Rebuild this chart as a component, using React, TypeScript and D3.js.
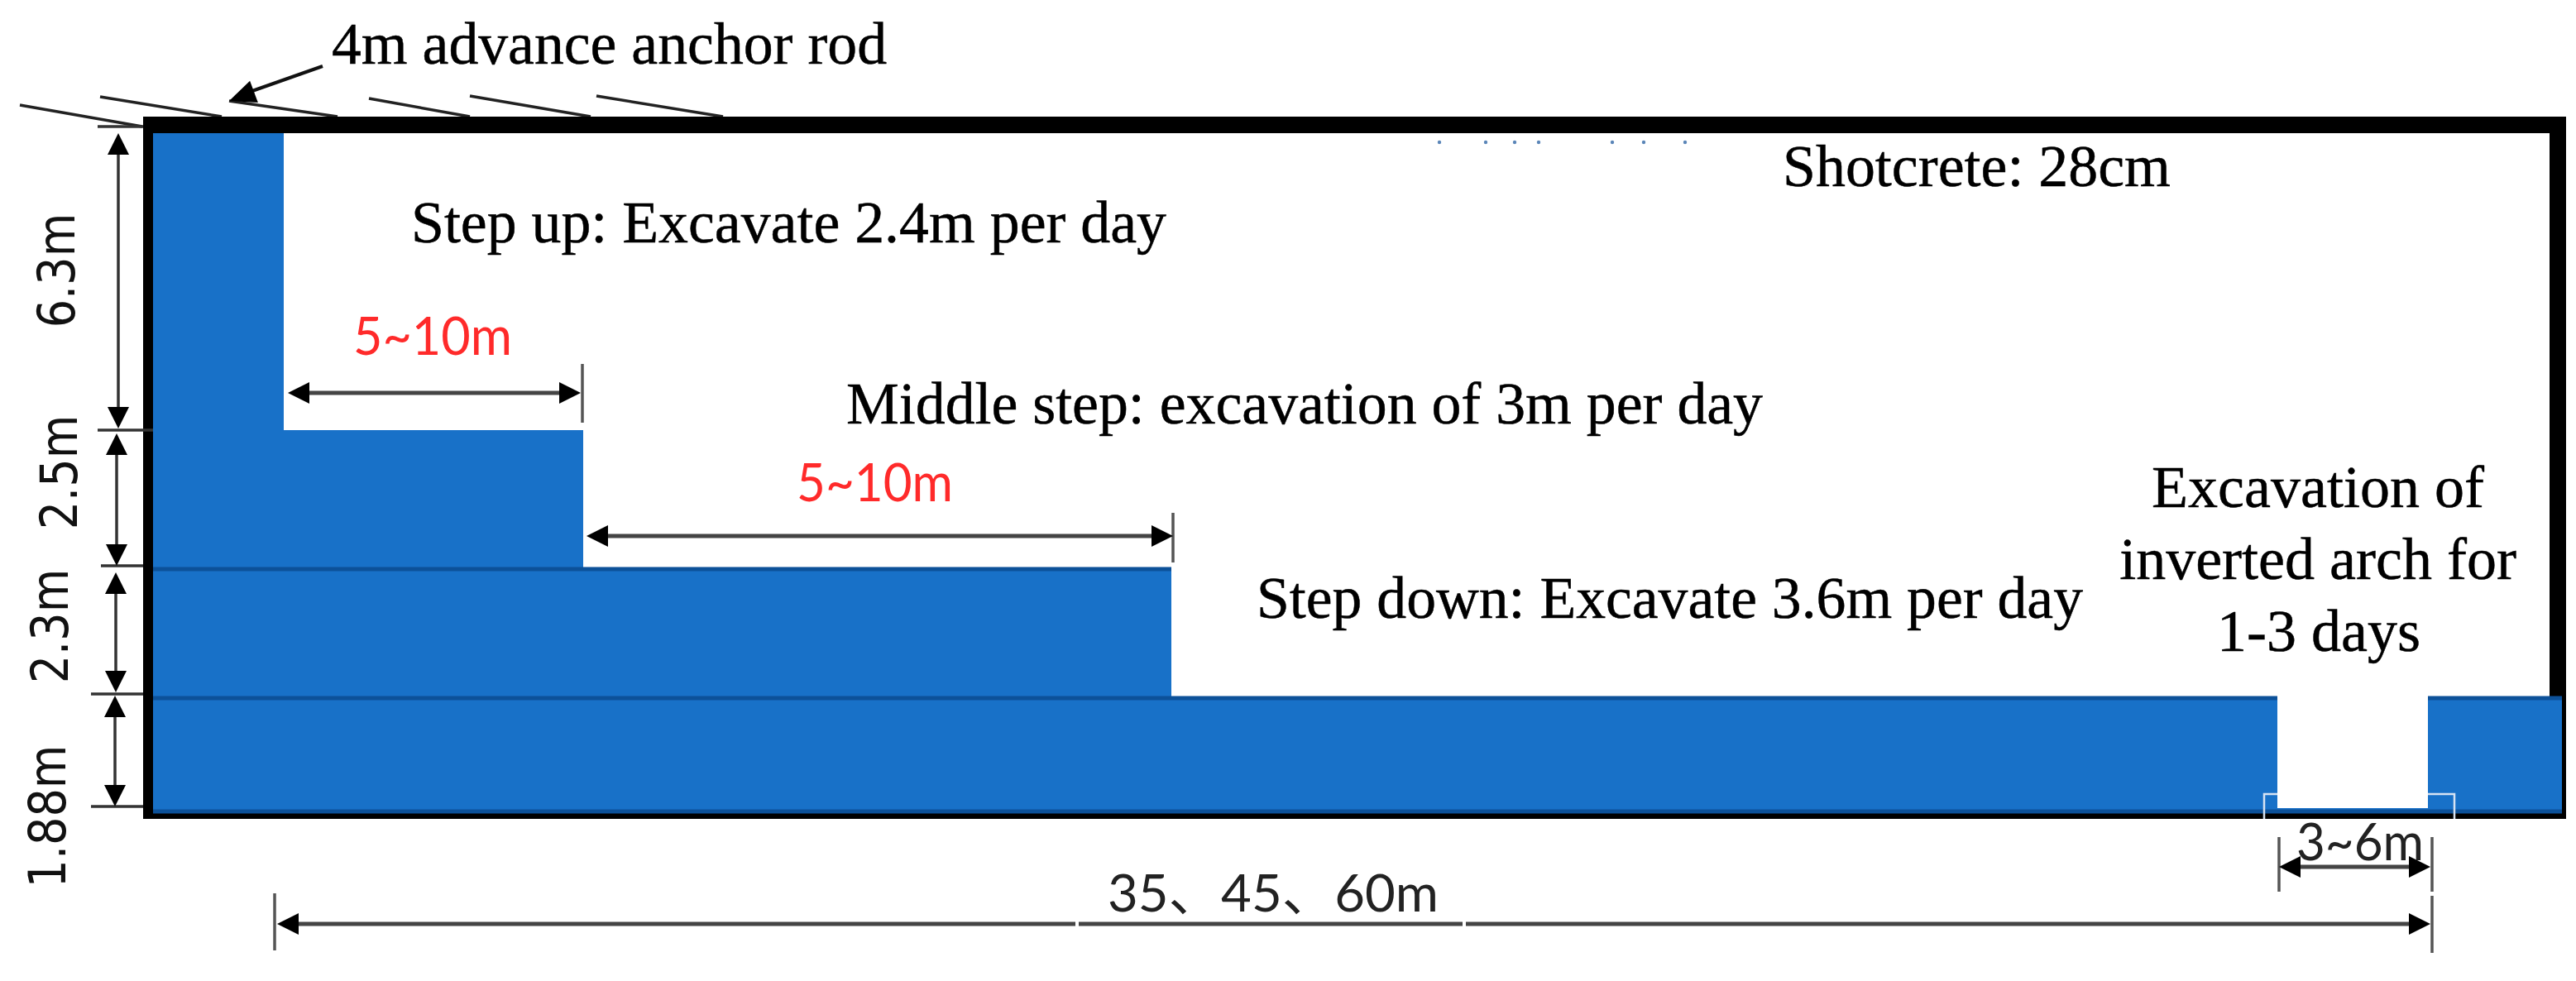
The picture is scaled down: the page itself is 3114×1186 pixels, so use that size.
import React from "react";
import * as d3 from "d3";

// All values in "sheet units" (1 unit = 1/10 of the sheet's pixel grid).
const blueSteps = [
  { name: "upper", end: 34.3, top: 16.1 },
  { name: "middle", end: 70.5, top: 52.0 },
  { name: "lower", end: 141.6, top: 68.9 },
  { name: "invert", end: 309.7, top: 84.2 },
];
const blueLeft = 18.5;
const blueBottom = 98.3;
const invertGap = { start: 275.3, end: 293.5, top: 84.0, bottom: 97.7 };
const invertFrame = { start: 273.7, end: 296.7, top: 96.0, bottom: 99.0 };
const liningCentre = { left: 18.3, right: 309.2, top: 15.1, bottom: 98.0 };
const seams = [
  { y: 68.8, x0: 18.5, x1: 141.6 },
  { y: 84.4, x0: 18.5, x1: 309.7 },
  { y: 98.1, x0: 18.5, x1: 309.7 },
];
const rods = [
  [2.4, 12.7, 17.2, 15.3],
  [12.1, 11.7, 26.8, 14.1],
  [27.7, 12.2, 40.8, 14.1],
  [44.6, 11.9, 56.8, 14.1],
  [56.8, 11.6, 71.4, 14.1],
  [72.1, 11.6, 87.4, 14.1],
];
const specks = [174.0, 179.6, 183.1, 186.0, 194.9, 198.7, 203.7];
const specksY = 17.2;

const dimV = [
  { x: 14.3, y0: 16.1, y1: 51.8 },
  { x: 14.1, y0: 52.4, y1: 68.4 },
  { x: 14.0, y0: 69.2, y1: 83.7 },
  { x: 13.9, y0: 84.1, y1: 97.5 },
];
const dimVTicks = [
  { y: 15.3, x0: 11.8, x1: 17.3 },
  { y: 52.0, x0: 11.8, x1: 18.5 },
  { y: 68.4, x0: 12.2, x1: 17.3 },
  { y: 83.9, x0: 11.0, x1: 17.3 },
  { y: 97.5, x0: 11.0, x1: 17.3 },
];
const dimH = [
  { y: 47.5, x0: 34.8, x1: 70.2 },
  { y: 64.8, x0: 70.9, x1: 141.8 },
  { y: 104.8, x0: 275.5, x1: 293.8 },
  { y: 111.7, x0: 33.5, x1: 293.8 },
];
const dimHTicks = [
  { x: 70.4, y0: 44.0, y1: 51.1 },
  { x: 141.8, y0: 62.0, y1: 68.0 },
  { x: 275.5, y0: 101.2, y1: 107.8 },
  { x: 294.0, y0: 101.2, y1: 107.8 },
  { x: 294.0, y0: 108.3, y1: 115.2 },
  { x: 33.2, y0: 108.0, y1: 114.9 },
];
const leader = [39.0, 8.0, 27.7, 12.2];
const lineBreaks = [130.2, 177.0];
const lineBreakY = 111.7;

const serifLabels = [
  { text: "4m advance anchor rod", x: 40.1, y: 7.7, w: 67.1 },
  { text: "Shotcrete: 28cm", x: 215.5, y: 22.5, w: 46.9 },
  { text: "Step up: Excavate 2.4m per day", x: 49.7, y: 29.3, w: 91.3 },
  { text: "Middle step: excavation of 3m per day", x: 102.3, y: 51.2, w: 110.8 },
  { text: "Step down: Excavate 3.6m per day", x: 151.9, y: 74.7, w: 99.9 },
];
const serifCentered = [
  { text: "Excavation of", x: 280.2, y: 61.3 },
  { text: "inverted arch for", x: 280.2, y: 70.0 },
  { text: "1-3 days", x: 280.3, y: 78.7 },
];
const redLabels = [
  { text: "5~10m", x: 42.7, y: 42.9, w: 19.2 },
  { text: "5~10m", x: 96.3, y: 60.6, w: 18.9 },
];
const darkLabels = [
  { text: "3~6m", x: 277.6, y: 104.0, w: 15.4 },
  { text: "35、45、60m", x: 133.9, y: 110.2, w: 40.0 },
];
const heightLabels = [
  { text: "6.3m", x: 6.7, y: 32.7 },
  { text: "2.5m", x: 7.0, y: 57.1 },
  { text: "2.3m", x: 5.9, y: 75.7 },
  { text: "1.88m", x: 5.6, y: 98.7 },
];

const W = 3114;
const H = 1186;
const BLUE = "#1871C8";
const SEAM = "#0C5199";
const LINE = "#333333";

const sx = d3.scaleLinear().domain([0, 311.4]).range([0, W]);
const sy = d3.scaleLinear().domain([0, 118.6]).range([0, H]);

function stepsPath(): string {
  const path = d3.path();
  path.moveTo(sx(blueLeft), sy(blueSteps[0].top));
  blueSteps.forEach((s, i) => {
    path.lineTo(sx(s.end), sy(s.top));
    const next = blueSteps[i + 1];
    path.lineTo(sx(s.end), sy(next ? next.top : blueBottom));
  });
  path.lineTo(sx(blueLeft), sy(blueBottom));
  path.closePath();
  return path.toString();
}

function arrowHead(x: number, y: number, angle: number, len: number, half: number): string {
  const p = d3.path();
  const c = Math.cos(angle);
  const s = Math.sin(angle);
  p.moveTo(x, y);
  p.lineTo(x - len * c - half * s, y - len * s + half * c);
  p.lineTo(x - len * c + half * s, y - len * s - half * c);
  p.closePath();
  return p.toString();
}

export default function App() {
  return (
    <svg
      width={W}
      height={H}
      viewBox={`0 0 ${W} ${H}`}
      style={{ position: "absolute", left: 0, top: 0, display: "block", background: "#fff" }}
    >
      {/* anchor rods */}
      {rods.map((r, i) => (
        <line key={i} x1={sx(r[0])} y1={sy(r[1])} x2={sx(r[2])} y2={sy(r[3])} stroke="#222" strokeWidth={3.5} />
      ))}
      {/* lining */}
      <rect
        x={sx(liningCentre.left)}
        y={sy(liningCentre.top)}
        width={sx(liningCentre.right - liningCentre.left)}
        height={sy(liningCentre.bottom - liningCentre.top)}
        fill="#fff"
        stroke="#000"
        strokeWidth={20}
      />
      {/* excavated steps */}
      <path d={stepsPath()} fill={BLUE} />
      {seams.map((s, i) => (
        <line key={i} x1={sx(s.x0)} x2={sx(s.x1)} y1={sy(s.y)} y2={sy(s.y)} stroke={SEAM} strokeWidth={5} />
      ))}
      {/* invert outline and gap */}
      <path
        d={`M${sx(invertFrame.start)},${sy(invertFrame.bottom)}V${sy(invertFrame.top)}H${sx(invertFrame.end)}V${sy(invertFrame.bottom)}`}
        fill="none"
        stroke="#d7e3f2"
        strokeWidth={2.5}
      />
      <rect
        x={sx(invertGap.start)}
        y={sy(invertGap.top)}
        width={sx(invertGap.end - invertGap.start)}
        height={sy(invertGap.bottom - invertGap.top)}
        fill="#fff"
      />
      {/* specks under the top wall */}
      {specks.map((x, i) => (
        <circle key={i} cx={sx(x)} cy={sy(specksY)} r={2.2} fill="#5b86b8" />
      ))}
      {/* dimension ticks */}
      {dimVTicks.map((t, i) => (
        <line key={i} x1={sx(t.x0)} x2={sx(t.x1)} y1={sy(t.y)} y2={sy(t.y)} stroke={LINE} strokeWidth={3.5} />
      ))}
      {dimHTicks.map((t, i) => (
        <line key={i} x1={sx(t.x)} x2={sx(t.x)} y1={sy(t.y0)} y2={sy(t.y1)} stroke="#555" strokeWidth={3.5} />
      ))}
      {/* vertical double arrows */}
      {dimV.map((d, i) => (
        <g key={i}>
          <line x1={sx(d.x)} x2={sx(d.x)} y1={sy(d.y0) + 10} y2={sy(d.y1) - 10} stroke={LINE} strokeWidth={3.5} />
          <path d={arrowHead(sx(d.x), sy(d.y0), -Math.PI / 2, 26, 13)} fill="#000" />
          <path d={arrowHead(sx(d.x), sy(d.y1), Math.PI / 2, 26, 13)} fill="#000" />
        </g>
      ))}
      {/* horizontal double arrows */}
      {dimH.map((d, i) => (
        <g key={i}>
          <line x1={sx(d.x0) + 10} x2={sx(d.x1) - 10} y1={sy(d.y)} y2={sy(d.y)} stroke="#444" strokeWidth={5} />
          <path d={arrowHead(sx(d.x0), sy(d.y), Math.PI, 26, 13)} fill="#000" />
          <path d={arrowHead(sx(d.x1), sy(d.y), 0, 26, 13)} fill="#000" />
        </g>
      ))}
      {/* breaks in the long dimension line around its label */}
      {lineBreaks.map((x, i) => (
        <line key={i} x1={sx(x)} x2={sx(x)} y1={sy(lineBreakY) - 5} y2={sy(lineBreakY) + 5} stroke="#fff" strokeWidth={4} />
      ))}
      {/* leader */}
      <line x1={sx(leader[0])} y1={sy(leader[1])} x2={sx(leader[2]) + 8} y2={sy(leader[3]) - 5} stroke="#111" strokeWidth={4} />
      <path
        d={arrowHead(sx(leader[2]), sy(leader[3]), Math.atan2(sy(leader[3]) - sy(leader[1]), sx(leader[2]) - sx(leader[0])), 32, 14)}
        fill="#000"
      />
      {/* texts */}
      <g fontFamily="'Liberation Serif'" fontSize={72} fill="#000" stroke="#000" strokeWidth={0.5}>
        {serifLabels.map((l, i) => (
          <text key={i} x={sx(l.x)} y={sy(l.y)} textLength={sx(l.w)} lengthAdjust="spacingAndGlyphs">
            {l.text}
          </text>
        ))}
        {serifCentered.map((l, i) => (
          <text key={i} x={sx(l.x)} y={sy(l.y)} textAnchor="middle">
            {l.text}
          </text>
        ))}
      </g>
      <g fontFamily="Lato" fontSize={64} fill="#FF2A2A">
        {redLabels.map((l, i) => (
          <text key={i} x={sx(l.x)} y={sy(l.y)} textLength={sx(l.w)} lengthAdjust="spacingAndGlyphs">
            {l.text}
          </text>
        ))}
      </g>
      <g fontFamily="Lato, 'Noto Sans CJK SC'" fontSize={62} fill="#222">
        {darkLabels.map((l, i) => (
          <text key={i} x={sx(l.x)} y={sy(l.y)} textLength={sx(l.w)} lengthAdjust="spacingAndGlyphs">
            {l.text}
          </text>
        ))}
      </g>
      <g fontFamily="'DejaVu Sans'" fontSize={54} fill="#111">
        {heightLabels.map((l, i) => (
          <text
            key={i}
            transform={`translate(${sx(l.x)},${sy(l.y)}) rotate(-90) scale(1,1.15)`}
            textAnchor="middle"
            y={19.7}
          >
            {l.text}
          </text>
        ))}
      </g>
    </svg>
  );
}
